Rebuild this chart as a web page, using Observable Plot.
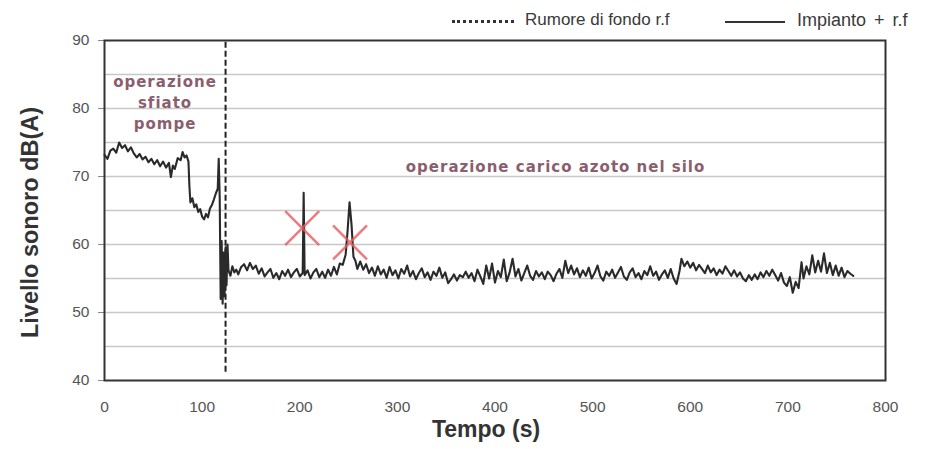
<!DOCTYPE html>
<html><head><meta charset="utf-8">
<script src="https://cdn.jsdelivr.net/npm/d3@7"></script>
<script src="https://cdn.jsdelivr.net/npm/@observablehq/plot@0.6"></script>
<style>
body{margin:0;background:#fff;font-family:"Liberation Sans",Arial,sans-serif;}
#legend{position:relative;height:30px;width:931px;color:#3a3a3a;font-size:17px;}
#legend .it{position:absolute;top:10px;white-space:nowrap;}
#legend .ln{position:absolute;top:21px;height:0;}
g[fill="#8b5e6e"] text{letter-spacing:1px;}
</style></head><body>
<div id="legend">
  <div class="ln" style="left:452px;width:62px;border-top:3px dotted #333;top:20px"></div>
  <div class="it" style="left:525px">Rumore di fondo r.f</div>
  <div class="ln" style="left:725px;width:60px;border-top:2px solid #333"></div>
  <div class="it" style="left:797px;font-size:18px;word-spacing:3px">Impianto + r.f</div>
</div>
<div id="chart"></div>
<script>
const time = [0,3,6,9,12,15,18,21,24,27,30,33,36,39,42,45,48,51,54,57,60,63,66,68,70,72,75,78,80,82,84,86,87,88,90,92,94,96,98,100,102,104,106,108,110,112,114,116,117,118,119,120,121,122,123,124,125,126,127,129,131,133,135,137,140,143,146,149,152,155,158,161,164,167,170,173,176,179,182,185,188,191,194,197,200,203,204,205,208,211,214,217,220,223,226,229,232,235,238,241,244,247,249,251,253,255,257,259,262,265,268,271,274,277,280,283,286,289,292,295,298,301,304,307,310,313,316,319,322,325,328,331,334,337,340,343,346,349,352,355,358,361,364,367,370,373,376,379,382,385,388,391,394,397,400,403,406,409,412,415,418,421,424,427,430,433,436,439,442,445,448,451,454,457,460,463,466,469,472,475,478,481,484,487,490,493,496,499,502,505,508,511,514,517,520,523,526,529,532,535,538,541,544,547,550,553,556,559,562,565,568,571,574,577,580,583,586,589,591,594,597,600,603,606,609,612,615,618,621,624,627,630,633,636,639,642,645,648,651,654,657,660,663,666,669,672,675,678,681,684,687,690,693,696,699,702,705,708,711,714,716,719,722,725,728,731,734,737,740,743,746,749,752,755,758,761,764,767];
const level = [73.2,72.6,73.8,74.1,73.5,75.0,74.2,74.6,73.7,74.3,73.4,72.8,73.3,72.5,72.9,72.1,72.6,71.8,72.4,71.5,72.2,71.3,72.0,69.9,71.6,71.1,72.7,72.4,73.6,72.8,73.1,72.2,68.5,66.2,66.8,65.5,65.9,64.8,65.2,64.1,63.7,64.5,64.0,65.3,65.8,66.6,67.5,68.2,72.6,67.0,52.0,60.5,51.3,58.8,52.4,59.6,54.0,60.0,56.2,55.4,56.8,55.9,56.3,55.6,56.7,57.1,56.2,57.3,56.4,56.9,55.7,56.5,55.3,55.9,56.4,55.1,55.8,54.9,56.1,55.4,56.3,55.2,55.9,56.4,55.3,55.8,67.6,55.5,56.2,55.0,55.9,56.4,55.2,56.0,55.1,56.3,55.4,56.7,55.6,57.2,57.0,58.5,62.0,66.2,63.0,58.2,57.6,56.4,57.5,56.3,57.1,55.8,56.6,55.4,56.8,55.6,56.3,55.1,56.7,55.5,56.2,55.0,56.4,55.7,56.9,55.3,56.1,54.9,55.8,56.5,55.2,55.9,54.8,56.0,55.4,56.6,55.1,55.9,54.3,54.9,55.6,54.7,55.5,55.2,56.0,55.1,55.8,54.6,56.3,55.3,54.2,56.9,55.0,57.2,54.4,56.1,55.2,57.8,54.6,55.9,57.9,55.3,56.4,54.7,55.8,56.9,55.4,54.8,56.1,55.3,55.9,54.9,56.0,55.5,54.6,55.7,56.4,55.1,57.6,55.8,56.9,55.6,56.5,55.2,56.2,55.4,56.6,55.0,55.8,56.9,55.3,54.7,56.0,55.4,56.3,55.1,55.9,56.7,55.3,54.8,55.9,56.5,55.2,55.8,54.9,56.1,55.5,56.8,55.4,56.0,54.8,55.6,56.2,55.1,56.4,55.0,54.2,56.1,57.9,56.8,57.5,56.6,57.3,56.2,57.0,56.4,55.8,56.9,55.9,56.5,55.5,56.3,55.7,56.8,56.1,55.4,56.2,55.3,55.9,55.0,54.6,55.5,54.8,55.6,54.9,55.9,55.2,56.1,55.4,56.3,55.5,54.7,55.8,54.4,53.9,55.2,52.9,54.5,53.6,57.4,55.0,56.8,55.6,58.4,55.9,57.6,56.0,58.7,55.8,57.3,55.5,56.9,55.4,56.6,55.2,56.1,55.7,55.4];

const markerTime = [202.5, 251.5];
const markerLevel = [62.4, 60.3];

const phaseTime = 124;          // dashed divider (s)
const phaseFrom = 41.2, phaseTo = 90;

const annoText = ["operazione\nsfiato\npompe", "operazione carico azoto nel silo"];
const annoTime = [62, 462];
const annoLevel = [81, 71.6];

const xTicks = [0,100,200,300,400,500,600,700,800];
const yTicks = [40,50,60,70,80,90];
const yGrid = [45,50,55,60,65,70,75,80,85];

const series = time.map((t,i) => ({t, v: level[i]}));
const markers = markerTime.map((t,i) => ({t, v: markerLevel[i]}));
const annos = annoText.map((s,i) => ({s, t: annoTime[i], v: annoLevel[i]}));

const chart = Plot.plot({
  width: 931, height: 419,
  marginLeft: 104, marginRight: 46, marginTop: 10, marginBottom: 69,
  style: {fontFamily: '"Liberation Sans", Arial, sans-serif', fontSize: "15px", color: "#555", background: "#fff"},
  x: {domain: [0, 800]},
  y: {domain: [40, 90]},
  marks: [
    Plot.gridY(yGrid, {stroke: "#c8c8c8", strokeOpacity: 1, strokeWidth: 1.5}),
    Plot.axisY(yTicks, {tickSize: 6, tickPadding: 9, label: null, stroke: "#888", fill: "#555", fontSize: 15.5}),
    Plot.axisX(xTicks, {tickSize: 0, tickPadding: 20, label: null, fill: "#555", fontSize: 15.5}),
    Plot.frame({stroke: "#333", strokeWidth: 2}),
    Plot.ruleX([phaseTime], {y1: phaseFrom, y2: phaseTo, stroke: "#222", strokeWidth: 2, strokeDasharray: "6,3"}),
    Plot.line(series, {x: "t", y: "v", stroke: "#2a2a2a", strokeWidth: 2.1}),
    Plot.dot(markers, {x: "t", y: "v", symbol: "times", r: 15.5, stroke: "#e85a5c", strokeWidth: 2.5, strokeOpacity: 0.8}),
    Plot.text(annos, {x: "t", y: "v", text: "s", fill: "#8b5e6e", fontWeight: "bold", fontSize: 15, lineHeight: 1.4, fontFamily: '"DejaVu Sans", sans-serif'}),
    Plot.text(["Livello sonoro dB(A)"], {frameAnchor: "left", textAnchor: "middle", dx: -74, dy: 12, rotate: -90, fontWeight: "bold", fontSize: 23.5, fill: "#333"}),
    Plot.text(["Tempo (s)"], {frameAnchor: "bottom", dx: -9, dy: 56, fontWeight: "bold", fontSize: 23, fill: "#333"})
  ]
});
document.getElementById("chart").appendChild(chart);
</script>
</body></html>
